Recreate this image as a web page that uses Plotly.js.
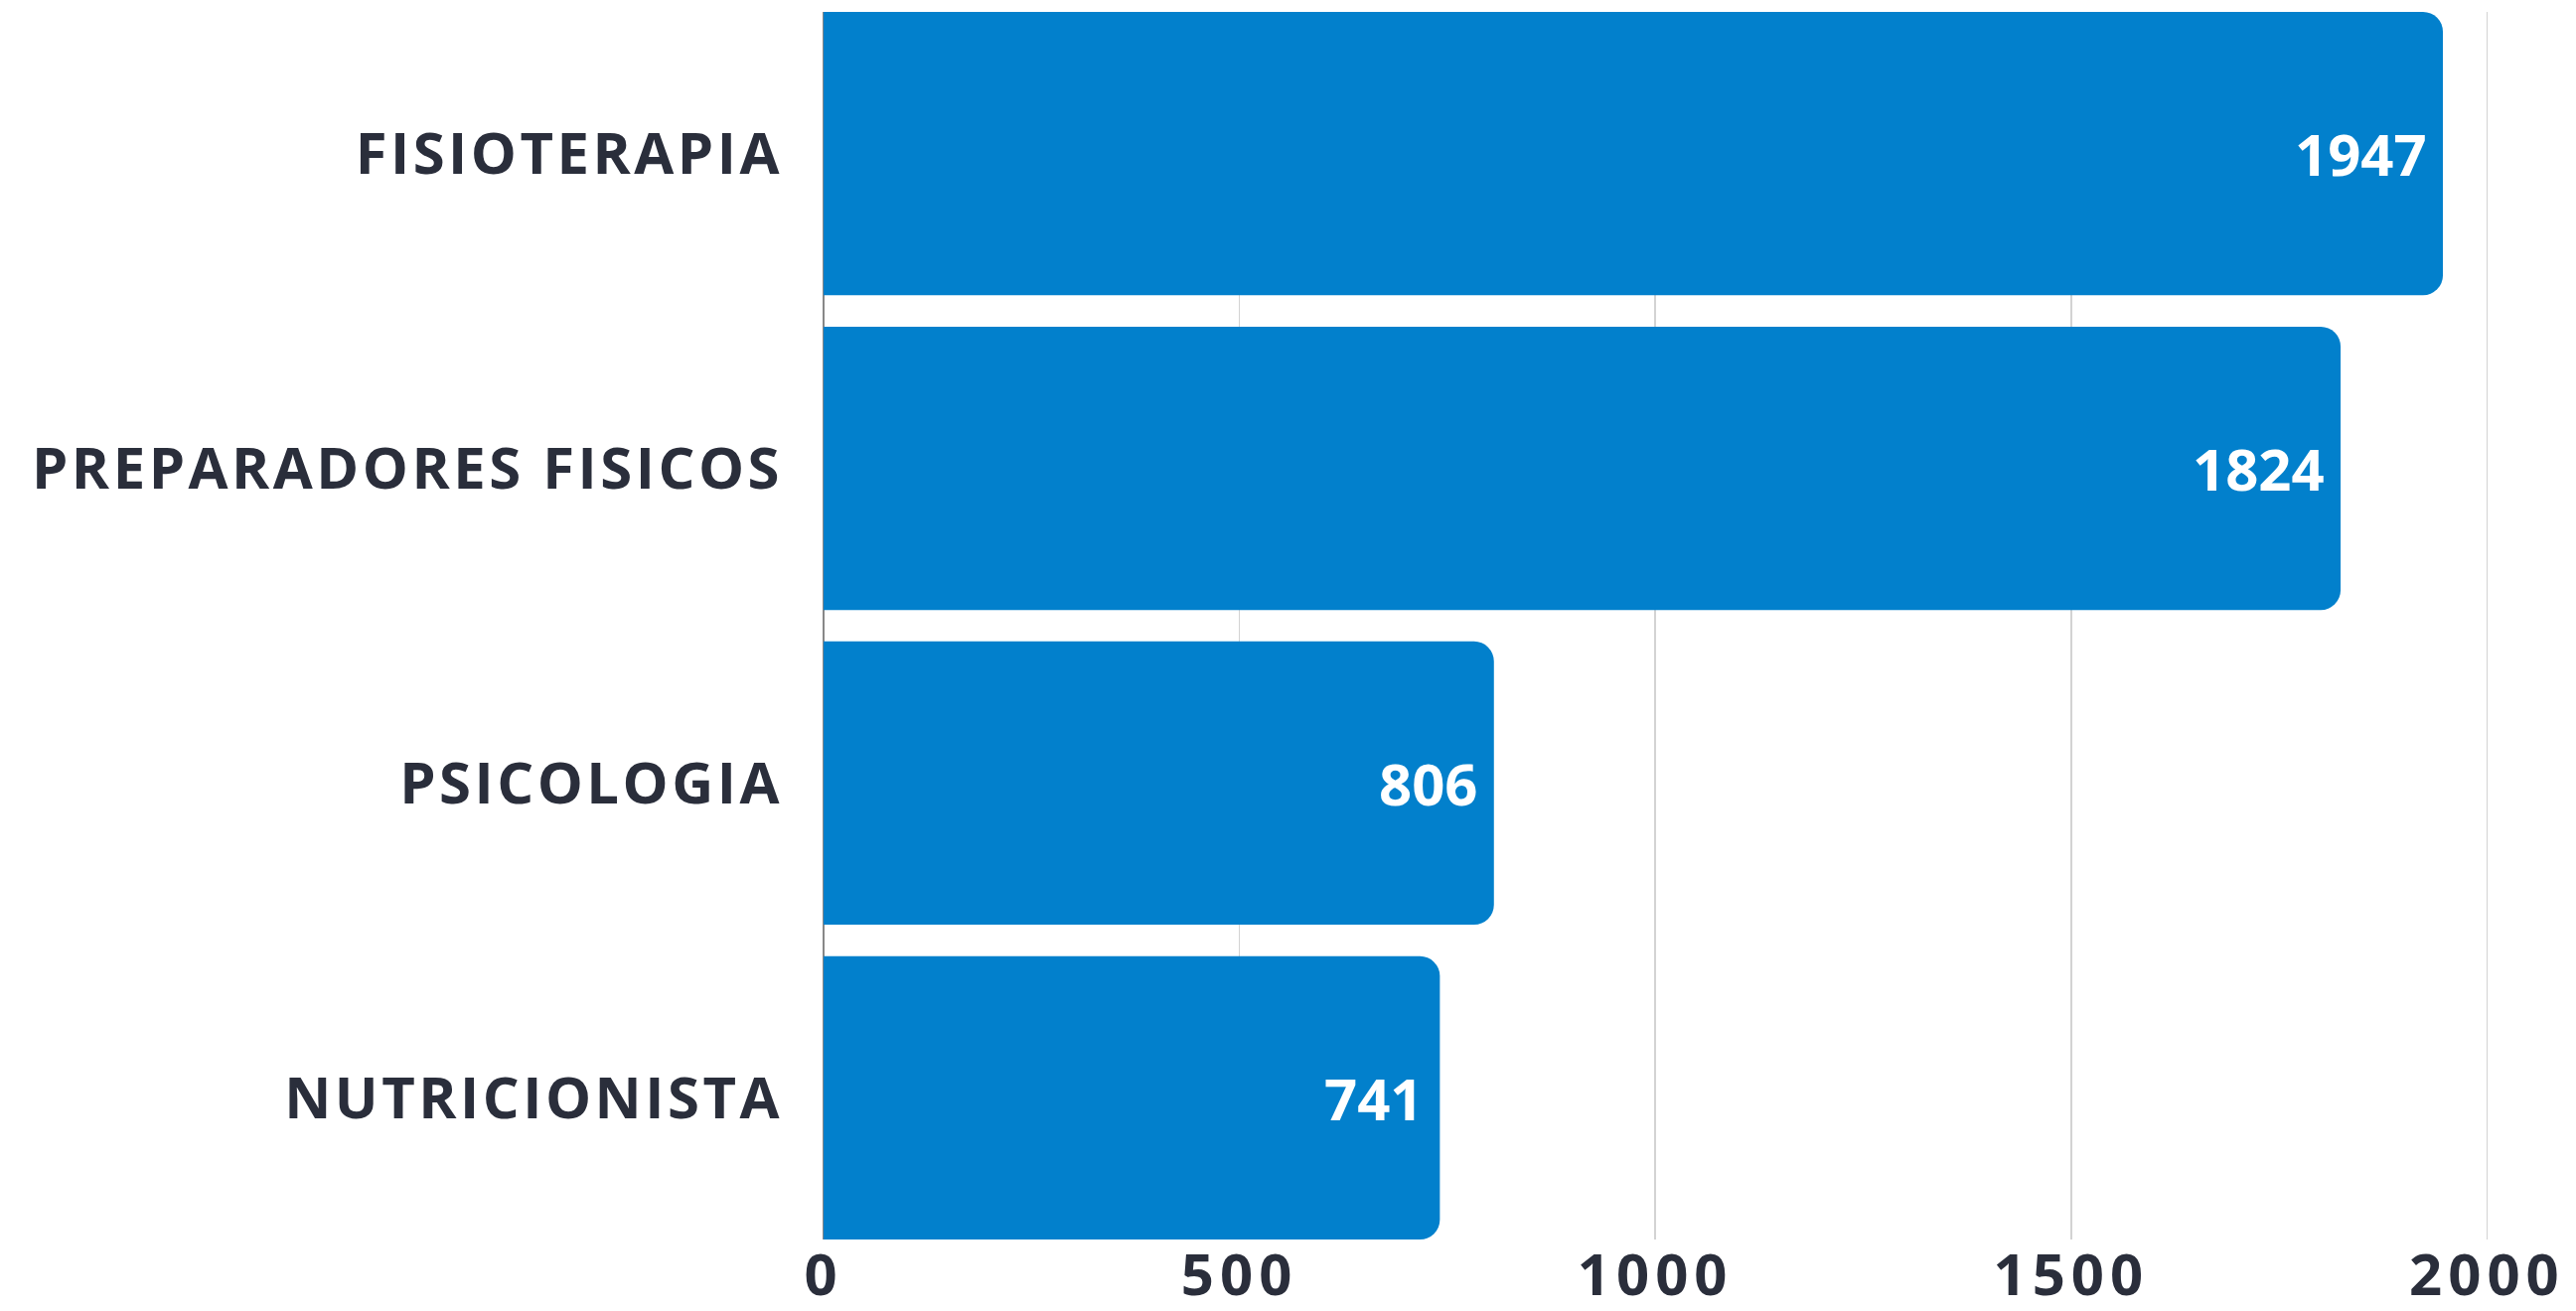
<!DOCTYPE html>
<html>
<head>
<meta charset="utf-8">
<script src="https://cdn.plot.ly/plotly-3.0.1.min.js"></script>
<style>
  html, body { margin: 0; padding: 0; background: #ffffff; }
  #chart { width: 2593px; height: 1320px; }
  #chart .ytick text { letter-spacing: 3.5px; }
  #chart .xtick text { letter-spacing: 6px; }
</style>
</head>
<body>
<div id="chart"></div>
<script>
const categories = ["FISIOTERAPIA", "PREPARADORES FISICOS", "PSICOLOGIA", "NUTRICIONISTA"];
const values = [1947, 1824, 806, 741];
const xTickValues = [0, 500, 1000, 1500, 2000];
const xTickLabels = ["0", "500", "1000", "1500", "2000"];

const barColor = "#0280cc";
const textColor = "#2a2e3b";
const fontFamily = "'Open Sans', 'DejaVu Sans', sans-serif";

const trace = {
  type: "bar",
  orientation: "h",
  x: values,
  y: categories,
  marker: { color: barColor, cornerradius: 20, line: { width: 0 } },
  hoverinfo: "none",
  showlegend: false
};

const annotations = values.map((v, i) => ({
  x: v,
  y: categories[i],
  xref: "x",
  yref: "y",
  text: String(v),
  showarrow: false,
  xanchor: "right",
  yanchor: "middle",
  xshift: -14,
  font: { family: fontFamily, size: 58, color: "#ffffff", weight: 700 }
}));

const layout = {
  width: 2593,
  height: 1320,
  margin: { l: 829, r: 31, t: 12, b: 72 },
  paper_bgcolor: "#ffffff",
  plot_bgcolor: "#ffffff",
  bargap: 0.1,
  xaxis: {
    range: [0, 2070],
    tickvals: xTickValues,
    ticktext: xTickLabels,
    showgrid: true,
    gridcolor: "#d3d3d3",
    gridwidth: 1.5,
    zeroline: true,
    zerolinecolor: "#888888",
    zerolinewidth: 1.5,
    showline: false,
    ticks: "",
    ticklabelstandoff: -3,
    tickfont: { family: fontFamily, size: 58, color: textColor, weight: 700 },
    fixedrange: true
  },
  yaxis: {
    type: "category",
    range: [3.45, -0.45],
    showgrid: false,
    zeroline: false,
    showline: false,
    ticks: "",
    ticklabelstandoff: 40,
    tickfont: { family: fontFamily, size: 58, color: textColor, weight: 700 },
    fixedrange: true
  },
  annotations: annotations
};

Plotly.newPlot("chart", [trace], layout, { displayModeBar: false, staticPlot: true });
</script>
</body>
</html>
